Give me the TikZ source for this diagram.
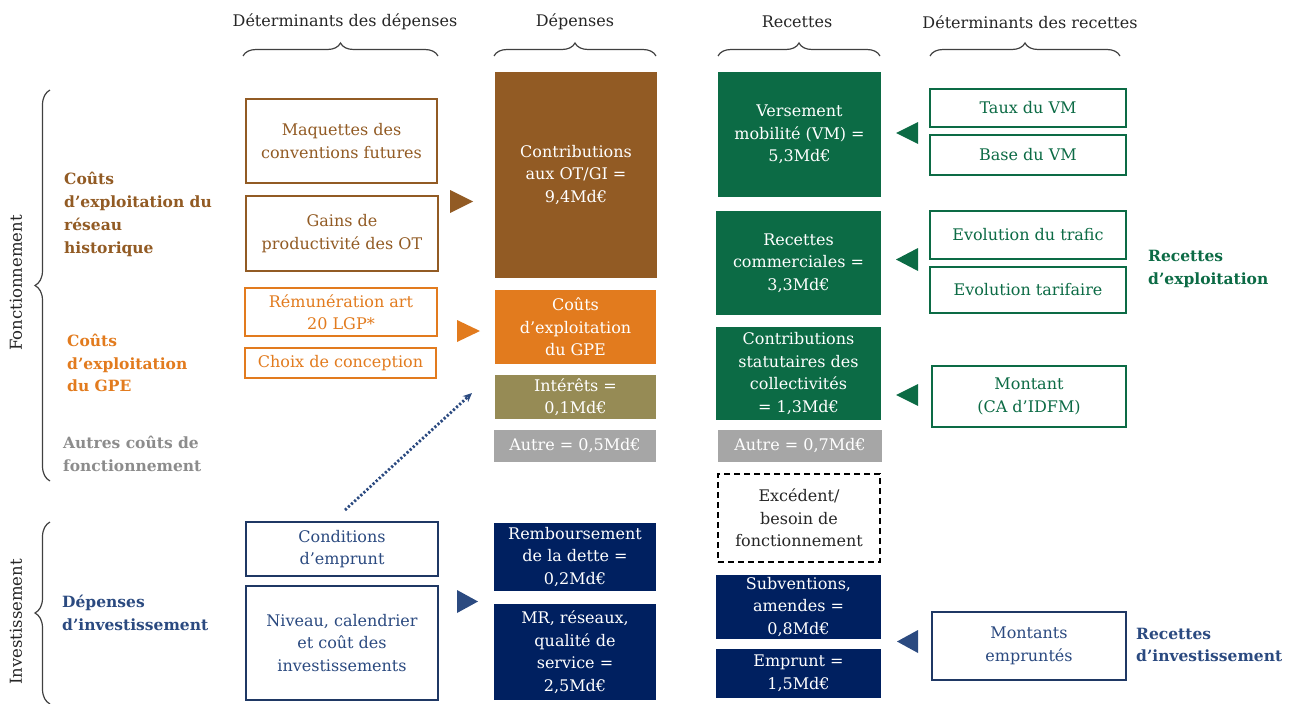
\documentclass[tikz,border=0pt]{standalone}
\usepackage{fontspec}
\setmainfont{DejaVu Serif}
\usetikzlibrary{decorations.pathreplacing,arrows.meta}
\definecolor{brn}{HTML}{925B24}
\definecolor{org}{HTML}{E27B1E}
\definecolor{olv}{HTML}{968B55}
\definecolor{gry}{HTML}{A6A6A6}
\definecolor{gryt}{HTML}{8C8C8C}
\definecolor{grn}{HTML}{0C6B45}
\definecolor{nvy}{HTML}{002060}
\definecolor{nvyl}{HTML}{1F3864}
\definecolor{nvyt}{HTML}{2B4A80}
\definecolor{hdr}{HTML}{262626}
\definecolor{brc}{HTML}{404040}
\begin{document}
\begin{tikzpicture}[x=1pt,y=-1pt,
  every node/.style={font=\fontsize{16}{22.5}\selectfont, align=center, inner sep=0pt},
  sz/.style 2 args={minimum width=#1, minimum height=#2},
  fillbox/.style={fill=#1, draw=none, text=white},
  linebox/.style={draw=#1, line width=2pt, text=#1, fill=white},
  lab/.style={font=\fontsize{15.5}{22.8}\selectfont\bfseries, align=left, anchor=west, text=#1},
  hdrtxt/.style={font=\fontsize{16}{18}\selectfont, text=hdr},
  hbrace/.style={decorate, decoration={brace, amplitude=13pt}, draw=brc, line width=1.2pt},
  vbrace/.style={decorate, decoration={brace, amplitude=15pt}, draw=brc, line width=1.2pt},
]
\useasboundingbox (0,0) rectangle (1291,704);

% headers
\node[hdrtxt] (h1) at (345,22) {Déterminants des dépenses};
\node[hdrtxt] (h2) at (575,22) {Dépenses};
\node[hdrtxt] (h3) at (797,22) {Recettes};
\node[hdrtxt] (h4) at (1030,22) {Déterminants des recettes};
\draw[hbrace] (243,56) -- (438,56);
\draw[hbrace] (494,56) -- (656,56);
\draw[hbrace] (718,56) -- (880,56);
\draw[hbrace] (930,56) -- (1120,56);

% left braces
\draw[vbrace] (50,481) -- (50,90);
\draw[vbrace] (50,704) -- (50,522);
\node[rotate=90, font=\fontsize{16.5}{18}\selectfont, text=hdr] (fonct) at (16,283) {Fonctionnement};
\node[rotate=90, font=\fontsize{16.5}{18}\selectfont, text=hdr] (invest) at (16,622) {Investissement};

% left labels
\node[lab=brn] (l1) at (64,214.5) {Coûts\\d’exploitation du\\réseau\\historique};
\node[lab=org] (l2) at (67,363) {Coûts\\d’exploitation\\du GPE};
\node[lab=gryt] (l3) at (63,454) {Autres coûts de\\fonctionnement};
\node[lab=nvyt] (l4) at (62,613) {Dépenses\\d’investissement};
\node[lab=grn] (l5) at (1148,269) {Recettes\\d’exploitation};
\node[lab=nvyt] (l6) at (1136,645) {Recettes\\d’investissement};

% left determinants
\node[linebox=brn, sz={191}{84}] (maq) at (341.5,141) {Maquettes des\\conventions futures};
\node[linebox=brn, sz={192}{75}] (gains) at (342,233.5) {Gains de\\productivité des OT};
\node[linebox=org, sz={192}{48}] (remu) at (341,312) {Rémunération art\\20 LGP*};
\node[linebox=org, sz={191}{30}] (choix) at (340.5,363) {Choix de conception};
\node[linebox=nvyl, sz={192}{54}, text=nvyt] (cond) at (342,549) {Conditions\\d’emprunt};
\node[linebox=nvyl, sz={192}{114}, text=nvyt] (niv) at (342,643) {Niveau, calendrier\\et coût des\\investissements};

% depenses
\node[fillbox=brn, sz={162}{206}] (contrib) at (576,175) {Contributions\\aux OT/GI =\\9,4Md€};
\node[fillbox=org, sz={161}{74}] (gpe) at (575.5,327) {Coûts\\d’exploitation\\du GPE};
\node[fillbox=olv, sz={161}{44}] (inter) at (575.5,397) {Intérêts =\\0,1Md€};
\node[fillbox=gry, sz={162}{32}] (aut1) at (575,446) {Autre = 0,5Md€};
\node[fillbox=nvy, sz={162}{68}] (remb) at (575,557) {Remboursement\\de la dette =\\0,2Md€};
\node[fillbox=nvy, sz={162}{96}] (mr) at (575,652) {MR, réseaux,\\qualité de\\service =\\2,5Md€};

% recettes
\node[fillbox=grn, sz={163}{125}] (vm) at (799.5,134.5) {Versement\\mobilité (VM) =\\5,3Md€};
\node[fillbox=grn, sz={165}{104}] (rc) at (798.5,263) {Recettes\\commerciales =\\3,3Md€};
\node[fillbox=grn, sz={165}{93}] (cs) at (798.5,373.5) {Contributions\\statutaires des\\collectivités\\= 1,3Md€};
\node[fillbox=gry, sz={164}{32}] (aut2) at (800,446) {Autre = 0,7Md€};
\node[draw=black, dash pattern=on 6pt off 4pt, line width=2pt, sz={162}{88}, text=hdr] (exc) at (799,518) {Excédent/\\besoin de\\fonctionnement};
\node[fillbox=nvy, sz={165}{64}] (subv) at (798.5,607) {Subventions,\\amendes =\\0,8Md€};
\node[fillbox=nvy, sz={165}{49}] (empr) at (798.5,673.5) {Emprunt =\\1,5Md€};

% right determinants
\node[linebox=grn, sz={196}{38}] (taux) at (1028,108) {Taux du VM};
\node[linebox=grn, sz={196}{40}] (base) at (1028,155) {Base du VM};
\node[linebox=grn, sz={196}{48}] (traf) at (1028,235) {Evolution du trafic};
\node[linebox=grn, sz={196}{46}] (tarif) at (1028,290) {Evolution tarifaire};
\node[linebox=grn, sz={194}{61}] (mont) at (1029,396.5) {Montant\\(CA d’IDFM)};
\node[linebox=nvyl, sz={194}{68}, text=nvyt] (memp) at (1029,646) {Montants\\empruntés};

% triangles
\fill[brn] (450,190) -- (450,213) -- (473,201.5) -- cycle;
\fill[org] (457,320) -- (457,342) -- (480,331) -- cycle;
\fill[nvyt] (457,590) -- (457,613) -- (478,601.5) -- cycle;
\fill[grn] (918,122) -- (918,144) -- (896,133) -- cycle;
\fill[grn] (918,248) -- (918,271) -- (896,259.5) -- cycle;
\fill[grn] (918,384) -- (918,406) -- (896,395) -- cycle;
\fill[nvyt] (918,630) -- (918,653) -- (897,641.5) -- cycle;

% dotted arrow
\coordinate (ds) at (345,510);
\coordinate (de) at (472,393);
\draw[nvyt, line width=2.8pt, dash pattern=on 2.2pt off 2pt, -{Stealth[length=9pt,width=8pt]}] (ds) -- (de);
\end{tikzpicture}
\end{document}
